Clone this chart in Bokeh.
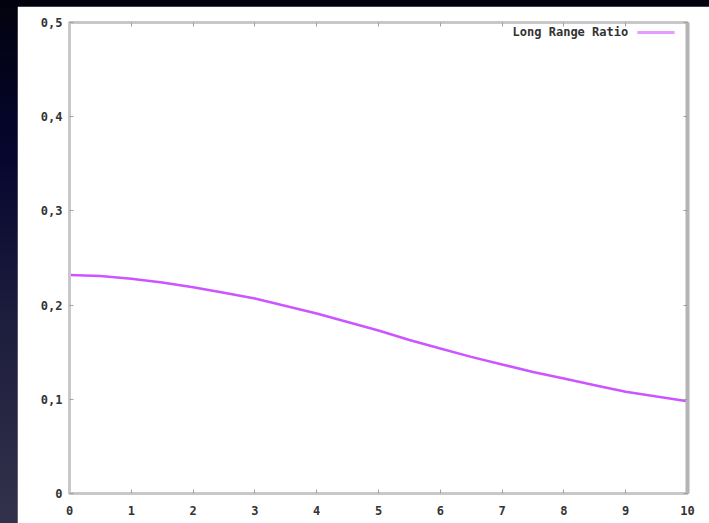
from bokeh.plotting import figure
from bokeh.embed import file_html
from bokeh.resources import INLINE
from bokeh.models import (Range1d, LinearAxis, FixedTicker, Label, BoxAnnotation,
                          CustomJSTickFormatter)

# Data
x_vals = [0, 0.5, 1, 1.5, 2, 2.5, 3, 3.5, 4, 4.5, 5, 5.5, 6, 6.5, 7, 7.5, 8, 8.5, 9, 9.5, 10]
ratio = [0.232, 0.231, 0.228, 0.224, 0.219, 0.213, 0.207, 0.199, 0.191, 0.182,
         0.173, 0.163, 0.154, 0.145, 0.137, 0.129, 0.122, 0.115, 0.108, 0.103, 0.098]
series_name = "Long Range Ratio"
x_ticks = [0, 1, 2, 3, 4, 5, 6, 7, 8, 9, 10]
y_ticks = [0, 0.1, 0.2, 0.3, 0.4, 0.5]
y_tick_labels = ["0", "0,1", "0,2", "0,3", "0,4", "0,5"]

FONT = "DejaVu Sans Mono"
FRAME = "#c8c8c8"
TEXT = "#333333"

p = figure(width=692, height=517, output_backend="svg", toolbar_location=None,
           x_range=Range1d(0, 10), y_range=Range1d(0, 0.5),
           min_border_left=52, min_border_top=16, min_border_right=22, min_border_bottom=30,
           background_fill_color="white", border_fill_color="white",
           outline_line_color=FRAME, outline_line_width=3)
p.grid.visible = False

for ax in [p.xaxis[0], p.yaxis[0]]:
    ax.axis_line_color = FRAME
    ax.axis_line_width = 3
    ax.major_tick_in = 4
    ax.major_tick_out = 0
    ax.major_tick_line_color = "#a0a0a0"
    ax.minor_tick_line_color = None
    ax.major_label_text_font = FONT
    ax.major_label_text_font_style = "bold"
    ax.major_label_text_font_size = "12px"
    ax.major_label_text_color = TEXT

p.xaxis[0].ticker = FixedTicker(ticks=x_ticks)
p.xaxis[0].major_label_standoff = 12
p.yaxis[0].ticker = FixedTicker(ticks=y_ticks)
p.yaxis[0].major_label_overrides = {t: l for t, l in zip(y_ticks, y_tick_labels)}
p.yaxis[0].major_label_standoff = 7

blank = CustomJSTickFormatter(code="return ''")
top = LinearAxis(ticker=FixedTicker(ticks=x_ticks), formatter=blank,
                 axis_line_color=FRAME, axis_line_width=3, major_tick_in=4, major_tick_out=0,
                 major_tick_line_color="#a0a0a0", minor_tick_line_color=None)
right = LinearAxis(ticker=FixedTicker(ticks=y_ticks), formatter=blank,
                   axis_line_color="#b4b4b4", axis_line_width=4, major_tick_in=4, major_tick_out=0,
                   major_tick_line_color="#a0a0a0", minor_tick_line_color=None)
p.add_layout(top, "above")
p.add_layout(right, "right")

p.line(x_vals, ratio, line_color="#cc55ff", line_width=2.5)

# Legend (gnuplot style: label then sample)
p.add_layout(Label(x=9.04, y=0.4895, text=series_name,
                   text_font=FONT, text_font_style="bold", text_font_size="12px",
                   text_color=TEXT, text_align="right", text_baseline="middle"))
p.add_layout(BoxAnnotation(left=9.19, right=9.79, bottom=0.4878, top=0.4910,
                           fill_color="#e39cff", fill_alpha=1, line_color=None))

html = file_html(p, INLINE)
style = ("<style>html{background: linear-gradient(to bottom, #02020e 0%, #060630 30%, "
         "#1c1c3c 60%, #32324c 100%); min-height:100%;} "
         "body{margin:6px 0 0 17px; padding:0; background:transparent; overflow:hidden;}</style>")
html = html.replace("</head>", style + "</head>", 1)
open("out.html", "w").write(html)
